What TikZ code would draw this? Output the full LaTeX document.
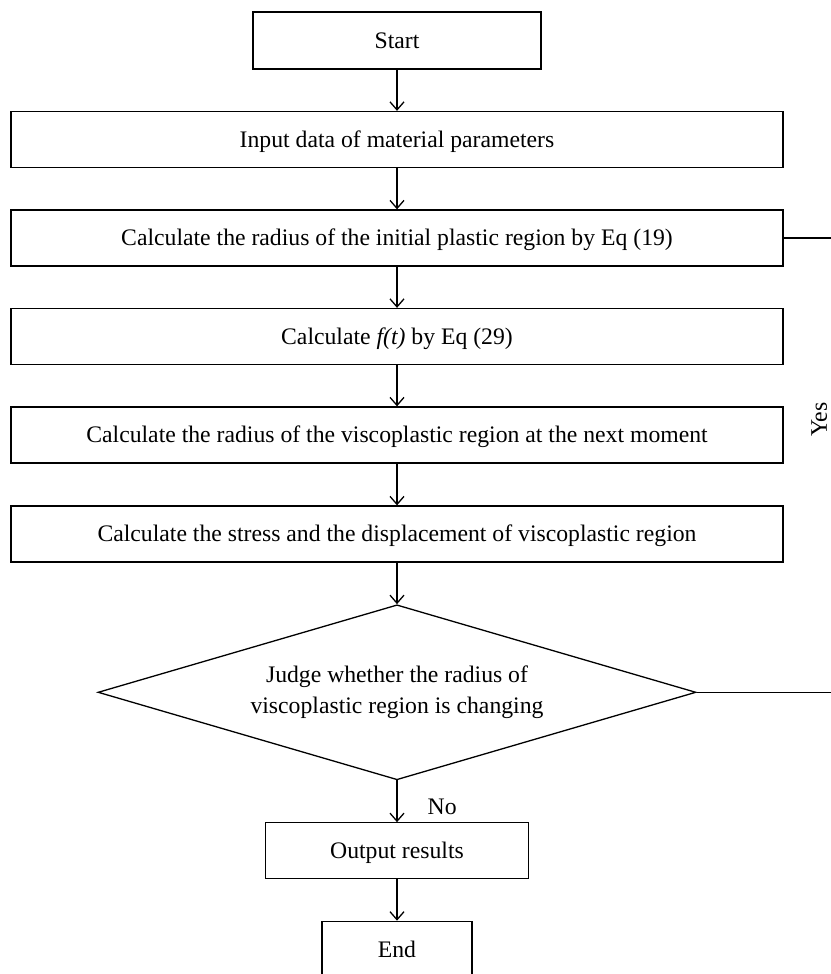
\documentclass[tikz,border=0pt]{standalone}
\usepackage{fontspec}
\setmainfont{Liberation Serif}
\usepackage{tikz}
\usetikzlibrary{shapes.geometric, arrows.meta, positioning, calc}

\begin{document}
\begin{tikzpicture}[
    x=1pt, y=1pt,
    node distance=98.5pt,
    on grid,
    every node/.style={font=\fontsize{23.7}{31}\selectfont},
    box/.style={rectangle, draw, line width=1.3pt, minimum width=772pt, minimum height=56pt, inner sep=0pt, text height=15.7pt, text depth=0pt},
    judge/.style={diamond, draw, line width=1.3pt, shape aspect=3.42, minimum width=598pt, minimum height=175pt, inner sep=0pt, align=center},
    arr/.style={-{Straight Barb[length=8pt, width=14pt]}, line width=1.3pt},
    link/.style={line width=1.3pt}
]
    \useasboundingbox (0,0) rectangle (830,-974);

    \node[box, minimum width=288pt, minimum height=57pt] (start) at (397,-40.5) {Start};
    \node[box, below=99pt of start] (input)  {Input data of material parameters};
    \node[box, below=of input]      (radius) {Calculate the radius of the initial plastic region by Eq (19)};
    \node[box, below=of radius]     (ft)     {Calculate \textit{f(t)} by Eq (29)};
    \node[box, below=of ft]         (next)   {Calculate the radius of the viscoplastic region at the next moment};
    \node[box, below=99pt of next]  (stress) {Calculate the stress and the displacement of viscoplastic region};
    \node[judge, below=158.3pt of stress] (check) {Judge whether the radius of\\viscoplastic region is changing};
    \node[box, minimum width=263pt, below=158.5pt of check] (output) {Output results};
    \node[box, minimum width=150pt, below=of output] (end) {End};

    % loop back (runs past the right edge)
    \coordinate (loopd) at ($(check.east)+(138,0)$);
    \coordinate (loopu) at (loopd |- radius.east);

    \draw[arr] (start) -- (input);
    \draw[arr] (input) -- (radius);
    \draw[arr] (radius) -- (ft);
    \draw[arr] (ft) -- (next);
    \draw[arr] (next) -- (stress);
    \draw[arr] (stress) -- (check);
    \draw[arr] (check) -- node[pos=0.64, anchor=west, xshift=30pt, inner sep=0pt] (no) {No} (output);
    \draw[arr] (output) -- (end);
    \draw[link] (check.east) -- (loopd)
        -- node[pos=0.6, rotate=90, anchor=south, inner sep=7pt] (yes) {Yes} (loopu)
        -- (radius.east);
\end{tikzpicture}
\end{document}
